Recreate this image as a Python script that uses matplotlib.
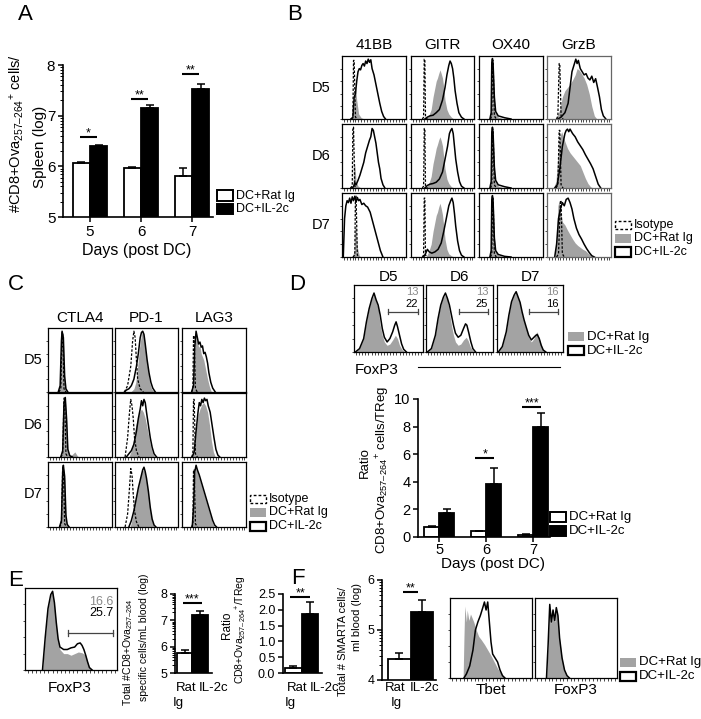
import numpy as np
import matplotlib
matplotlib.use("Agg")
import matplotlib.pyplot as plt
from matplotlib.patches import Rectangle
from matplotlib.lines import Line2D

plt.rcParams["font.family"] = ["Liberation Sans", "DejaVu Sans"]
plt.rcParams["mathtext.fontset"] = "custom"
plt.rcParams["mathtext.rm"] = "Liberation Sans"
plt.rcParams["mathtext.it"] = "Liberation Sans:italic"
plt.rcParams["mathtext.default"] = "regular"

GREY = "#a3a3a3"
W, H = 701, 719

# ---------------- bar chart data ----------------
days = np.array([5, 6, 7])
a_ratig = [6.07, 5.97, 5.81]
a_ratig_err = [0.02, 0.02, 0.15]
a_il2c = [6.40, 7.16, 7.52]
a_il2c_err = [0.02, 0.05, 0.10]
a_sig_y = [6.58, 7.33, 7.82]
a_sig = ["*", "**", "**"]

d_ratig = [0.75, 0.40, 0.18]
d_ratig_err = [0.07, 0.05, 0.04]
d_il2c = [1.75, 3.85, 8.0]
d_il2c_err = [0.28, 1.15, 0.95]
d_sig_day = [6, 7]
d_sig_y = [5.7, 9.4]
d_sig = ["*", "***"]

groups = ["Rat", "IL-2c"]
e_count = [5.75, 7.2]
e_count_err = [0.12, 0.15]
e_ratio = [0.17, 1.88]
e_ratio_err = [0.04, 0.38]
f_count = [4.42, 5.36]
f_count_err = [0.12, 0.24]

# gate percentages (D: Rat Ig / IL-2c per day, E: blood)
d_pct_rat = ["13", "13", "16"]
d_pct_il2 = ["22", "25", "16"]
e_pct = ["16.6", "25.7"]

# ---------------- histogram data: (x %, height %) ----------------
b_41bb_iso = [
    [(14, 0), (17, 3), (18, 93), (19, 93), (21, 3), (24, 0)],
    [(13, 0), (16, 3), (17, 95), (18, 95), (20, 3), (23, 0)],
    [(17, 0), (20, 3), (21, 95), (22, 95), (24, 3), (27, 0)],
]
b_41bb_rat = [
    [(15, 0), (18, 5), (19, 45), (21, 52), (23, 30), (26, 8), (30, 2), (35, 0)],
    [(14, 0), (17, 5), (18, 35), (20, 38), (22, 10), (25, 3), (30, 0)],
    [(16, 0), (19, 10), (20, 45), (22, 48), (24, 15), (27, 2), (30, 0)],
]
b_41bb_il2 = [
    [(14, 0), (17, 2), (19, 35), (21, 40), (23, 60), (25, 75), (27, 80), (29, 78), (31, 85),
     (33, 88), (35, 84), (37, 92), (39, 88), (41, 95), (43, 90), (45, 94), (47, 80), (50, 70),
     (53, 55), (56, 40), (59, 25), (62, 12), (65, 4), (68, 0)],
    [(15, 0), (18, 2), (20, 8), (22, 5), (25, 12), (28, 20), (31, 30), (34, 40), (37, 55),
     (40, 65), (43, 75), (45, 80), (47, 93), (49, 90), (51, 80), (53, 70), (55, 55), (57, 40),
     (59, 30), (61, 15), (64, 5), (67, 0)],
    [(2, 0), (4, 60), (6, 80), (8, 88), (10, 85), (12, 92), (14, 84), (16, 94), (18, 88),
     (20, 95), (22, 86), (24, 93), (26, 88), (28, 90), (31, 82), (34, 84), (37, 80), (40, 78),
     (44, 70), (48, 55), (52, 40), (56, 25), (60, 10), (64, 0)],
]
b_gitr_iso = [
    [(18, 0), (20, 3), (21, 95), (22, 95), (23, 3), (26, 0)],
    [(18, 0), (20, 3), (21, 93), (22, 93), (23, 3), (26, 0)],
    [(18, 0), (20, 3), (21, 92), (22, 92), (23, 3), (26, 0)],
]
b_gitr_rat = [
    [(24, 0), (28, 5), (32, 15), (35, 35), (38, 50), (40, 60), (42, 65), (44, 72), (46, 78),
     (48, 72), (50, 65), (52, 50), (54, 30), (57, 15), (60, 8), (64, 3), (68, 0)],
    [(24, 0), (28, 6), (32, 18), (35, 38), (38, 52), (40, 62), (42, 68), (44, 75), (46, 80),
     (48, 74), (50, 66), (52, 48), (54, 30), (57, 14), (60, 7), (64, 2), (68, 0)],
    [(24, 0), (28, 8), (32, 20), (35, 40), (38, 55), (40, 65), (42, 70), (44, 78), (46, 84),
     (48, 76), (50, 66), (52, 48), (54, 28), (57, 12), (60, 5), (64, 2), (68, 0)],
]
b_gitr_il2 = [
    [(22, 0), (26, 3), (30, 5), (35, 6), (40, 10), (45, 15), (50, 30), (54, 50), (57, 70),
     (60, 85), (62, 92), (64, 88), (66, 80), (68, 65), (70, 45), (73, 25), (76, 10), (80, 3),
     (84, 0)],
    [(22, 0), (26, 4), (30, 6), (35, 7), (40, 9), (45, 14), (50, 25), (54, 45), (58, 65),
     (61, 85), (63, 90), (65, 93), (67, 85), (69, 65), (71, 45), (74, 25), (77, 10), (80, 3),
     (84, 0)],
    [(20, 0), (23, 5), (26, 12), (29, 8), (33, 6), (38, 8), (43, 12), (48, 22), (52, 40),
     (56, 60), (60, 80), (63, 88), (65, 92), (67, 85), (69, 68), (71, 48), (74, 25), (77, 10),
     (80, 3), (84, 0)],
]
b_ox40_iso = [
    [(18, 0), (20, 5), (21, 93), (22, 93), (24, 5), (27, 0)],
    [(18, 0), (20, 5), (21, 92), (22, 92), (24, 5), (27, 0)],
    [(18, 0), (20, 5), (21, 94), (22, 94), (24, 5), (27, 0)],
]
b_ox40_rat = [
    [(17, 0), (19, 10), (20, 80), (22, 85), (24, 30), (26, 10), (30, 3), (40, 0)],
    [(17, 0), (19, 10), (20, 78), (22, 84), (24, 28), (26, 9), (30, 3), (40, 0)],
    [(17, 0), (19, 12), (20, 82), (22, 86), (24, 30), (26, 10), (30, 3), (40, 0)],
]
b_ox40_il2 = [
    [(17, 0), (19, 10), (20, 90), (21, 96), (22, 88), (24, 35), (26, 12), (30, 5), (40, 2), (50, 0)],
    [(17, 0), (19, 10), (20, 88), (21, 95), (22, 86), (24, 33), (26, 12), (30, 5), (40, 2), (50, 0)],
    [(17, 0), (19, 10), (20, 90), (21, 96), (22, 88), (24, 30), (26, 10), (30, 4), (40, 1), (50, 0)],
]
b_grzb_iso = [
    [(15, 0), (17, 5), (19, 88), (20, 88), (22, 5), (25, 0)],
    [(14, 0), (17, 5), (19, 90), (20, 90), (22, 5), (25, 0)],
    [(15, 0), (18, 5), (21, 88), (22, 88), (24, 5), (27, 0)],
]
b_grzb_rat = [
    [(12, 0), (16, 5), (20, 15), (24, 35), (28, 45), (32, 50), (36, 55), (40, 62), (44, 70),
     (47, 80), (50, 78), (54, 72), (58, 65), (62, 55), (66, 40), (70, 20), (74, 5), (78, 0)],
    [(10, 0), (14, 10), (17, 50), (20, 80), (23, 88), (26, 78), (29, 70), (32, 62), (36, 55),
     (40, 50), (44, 45), (48, 40), (52, 35), (56, 25), (60, 15), (64, 7), (68, 2), (72, 0)],
    [(12, 0), (15, 30), (17, 80), (19, 88), (21, 70), (24, 55), (28, 50), (32, 42), (36, 35),
     (40, 28), (44, 22), (48, 18), (52, 15), (56, 12), (60, 10), (64, 6), (68, 3), (72, 0)],
]
b_grzb_il2 = [
    [(17, 0), (22, 3), (28, 10), (33, 25), (36, 50), (39, 75), (42, 85), (45, 95), (47, 88),
     (49, 93), (52, 80), (55, 75), (58, 70), (61, 72), (64, 65), (67, 62), (70, 68), (73, 58),
     (76, 64), (79, 50), (82, 35), (85, 15), (88, 5), (92, 0)],
    [(12, 0), (16, 5), (20, 30), (24, 65), (28, 85), (30, 90), (32, 92), (34, 88), (36, 92),
     (40, 85), (44, 80), (48, 72), (52, 66), (56, 60), (60, 52), (64, 45), (68, 38), (72, 30),
     (76, 18), (80, 6), (84, 0)],
    [(12, 0), (15, 20), (18, 60), (21, 75), (24, 85), (27, 80), (30, 90), (33, 92), (36, 85),
     (39, 75), (42, 60), (46, 45), (50, 35), (54, 28), (58, 20), (62, 13), (66, 7), (70, 2),
     (74, 0)],
]

c_ctla4_iso = [
    [(17, 0), (20, 5), (22, 93), (23, 93), (25, 5), (28, 0)],
    [(20, 0), (23, 5), (25, 92), (26, 92), (28, 5), (31, 0)],
    [(18, 0), (21, 5), (23, 94), (24, 94), (26, 5), (29, 0)],
]
c_ctla4_rat = [
    [(16, 0), (19, 10), (21, 75), (22, 90), (24, 80), (26, 20), (28, 3), (31, 0)],
    [(20, 0), (23, 10), (25, 80), (27, 90), (29, 60), (31, 10), (34, 2), (38, 4), (42, 8),
     (45, 3), (48, 0)],
    [(18, 0), (21, 10), (23, 80), (24, 92), (26, 75), (28, 15), (30, 3), (33, 0)],
]
c_ctla4_il2 = [
    [(16, 0), (19, 10), (21, 80), (22, 95), (24, 85), (26, 25), (28, 5), (31, 0)],
    [(20, 0), (23, 10), (25, 85), (27, 93), (29, 60), (31, 12), (34, 2), (38, 0)],
    [(18, 0), (21, 10), (23, 85), (24, 95), (26, 78), (28, 18), (30, 4), (33, 0)],
]
c_pd1_iso = [
    [(15, 0), (20, 10), (25, 40), (28, 80), (30, 95), (32, 85), (34, 50), (36, 20), (40, 5), (45, 0)],
    [(16, 0), (20, 30), (23, 70), (25, 90), (27, 80), (29, 60), (31, 30), (34, 10), (38, 0)],
    [(16, 0), (20, 20), (23, 60), (25, 90), (27, 80), (29, 50), (31, 25), (34, 8), (38, 0)],
]
c_pd1_rat = [
    [(25, 0), (30, 5), (33, 15), (36, 40), (39, 70), (42, 90), (44, 95), (46, 85), (49, 60),
     (52, 35), (55, 15), (58, 5), (62, 0)],
    [(22, 0), (26, 10), (30, 30), (33, 50), (36, 60), (39, 70), (42, 75), (45, 70), (48, 60),
     (51, 45), (54, 30), (57, 15), (60, 5), (63, 0)],
    [(24, 0), (28, 15), (31, 35), (34, 50), (37, 60), (40, 75), (43, 85), (45, 88), (47, 85),
     (50, 70), (53, 50), (56, 25), (59, 8), (62, 0)],
]
c_pd1_il2 = [
    [(15, 0), (18, 3), (22, 5), (26, 10), (30, 20), (34, 40), (37, 60), (40, 85), (42, 93),
     (44, 95), (46, 90), (48, 75), (51, 50), (54, 30), (57, 15), (60, 6), (64, 0)],
    [(18, 0), (22, 5), (26, 10), (30, 20), (34, 40), (37, 60), (40, 75), (42, 88), (44, 80),
     (46, 90), (48, 85), (50, 70), (53, 50), (56, 30), (59, 15), (62, 5), (66, 0)],
    [(22, 0), (26, 10), (30, 25), (34, 45), (37, 60), (40, 72), (42, 80), (44, 88), (46, 92),
     (48, 85), (50, 75), (53, 55), (56, 30), (59, 12), (62, 3), (65, 0)],
]
c_lag3_iso = [
    [(15, 0), (17, 5), (18, 88), (19, 88), (21, 5), (24, 0)],
    [(15, 0), (17, 5), (18, 90), (19, 90), (21, 5), (24, 0)],
    [(15, 0), (17, 5), (18, 88), (19, 88), (21, 5), (24, 0)],
]
c_lag3_rat = [
    [(15, 0), (18, 10), (20, 60), (22, 90), (24, 80), (26, 70), (28, 72), (30, 60), (32, 55),
     (34, 50), (36, 40), (38, 30), (40, 20), (43, 8), (46, 0)],
    [(16, 0), (19, 10), (22, 40), (25, 65), (28, 75), (31, 82), (34, 85), (37, 80), (40, 70),
     (43, 50), (46, 25), (49, 8), (52, 0)],
    [(16, 0), (18, 30), (20, 80), (22, 92), (24, 85), (27, 75), (30, 65), (33, 55), (36, 45),
     (39, 35), (42, 25), (45, 15), (48, 5), (51, 0)],
]
c_lag3_il2 = [
    [(15, 0), (18, 10), (20, 70), (22, 95), (24, 85), (26, 75), (28, 78), (30, 70), (32, 72),
     (34, 60), (36, 62), (38, 55), (40, 45), (42, 30), (45, 15), (48, 6), (52, 0)],
    [(16, 0), (19, 8), (22, 40), (25, 70), (27, 85), (29, 80), (31, 90), (33, 85), (35, 92),
     (37, 88), (39, 90), (41, 80), (44, 70), (47, 50), (50, 30), (53, 12), (56, 3), (59, 0)],
    [(16, 0), (18, 30), (20, 85), (22, 95), (24, 88), (27, 80), (30, 70), (33, 60), (36, 50),
     (39, 40), (42, 30), (45, 20), (48, 10), (51, 3), (54, 0)],
]

d_foxp3_rat = [
    [(2, 0), (8, 5), (14, 20), (18, 45), (22, 65), (26, 80), (29, 85), (32, 75), (35, 65),
     (38, 40), (41, 25), (44, 15), (48, 10), (52, 12), (56, 18), (60, 25), (63, 20), (66, 10),
     (70, 3), (74, 0)],
    [(2, 0), (8, 5), (14, 25), (18, 50), (22, 70), (26, 82), (29, 85), (32, 78), (35, 60),
     (38, 40), (41, 25), (44, 15), (48, 10), (52, 12), (56, 18), (60, 22), (63, 17), (66, 8),
     (70, 2), (73, 0)],
    [(2, 0), (8, 8), (14, 30), (18, 55), (22, 75), (26, 85), (29, 88), (32, 80), (35, 72),
     (38, 55), (41, 45), (44, 35), (48, 22), (52, 15), (56, 20), (59, 28), (61, 30), (64, 20),
     (67, 10), (70, 3), (74, 0)],
]
d_foxp3_il2 = [
    [(2, 0), (8, 5), (14, 20), (18, 45), (22, 65), (26, 80), (29, 88), (32, 78), (35, 70),
     (38, 55), (41, 35), (44, 22), (48, 15), (52, 20), (56, 30), (59, 40), (61, 45), (63, 38),
     (66, 25), (69, 12), (72, 4), (76, 0)],
    [(2, 0), (8, 5), (14, 25), (18, 50), (22, 70), (26, 82), (29, 88), (32, 80), (35, 70),
     (38, 55), (41, 40), (44, 28), (48, 22), (52, 25), (56, 35), (59, 42), (61, 40), (64, 28),
     (67, 15), (70, 5), (74, 0)],
    [(2, 0), (8, 8), (14, 30), (18, 55), (22, 75), (26, 85), (29, 90), (32, 82), (35, 74),
     (38, 60), (41, 48), (44, 38), (48, 25), (52, 18), (56, 22), (59, 25), (61, 26), (64, 20),
     (67, 10), (70, 3), (74, 0)],
]

e_foxp3_rat = [(19, 0), (22, 40), (25, 75), (28, 92), (30, 95), (32, 80), (34, 55), (36, 35),
               (38, 25), (42, 20), (46, 20), (50, 18), (54, 20), (58, 22), (62, 21), (66, 18),
               (68, 10), (70, 3), (73, 0)]
e_foxp3_il2 = [(19, 0), (22, 40), (25, 75), (28, 92), (30, 96), (32, 82), (34, 58), (36, 38),
               (38, 28), (42, 25), (46, 25), (50, 27), (54, 28), (57, 32), (60, 33), (62, 30),
               (64, 25), (66, 18), (68, 10), (70, 3), (73, 0)]

f_tbet_rat = [(16, 0), (17, 50), (18, 90), (20, 70), (21, 85), (23, 72), (25, 80), (27, 75),
              (29, 70), (32, 60), (35, 52), (38, 48), (42, 42), (46, 35), (50, 28), (54, 20),
              (58, 12), (62, 6), (67, 0)]
f_tbet_il2 = [(17, 0), (20, 5), (24, 15), (28, 35), (31, 60), (34, 70), (37, 78), (40, 88),
              (42, 95), (44, 85), (46, 95), (48, 70), (50, 45), (52, 30), (55, 25), (58, 20),
              (61, 10), (64, 3), (67, 0)]
f_foxp3_rat = [(14, 0), (16, 40), (18, 90), (20, 68), (22, 83), (24, 70), (26, 86), (28, 75),
               (30, 48), (33, 24), (36, 9), (39, 3), (42, 0)]
f_foxp3_il2 = [(14, 0), (16, 42), (18, 92), (20, 70), (22, 85), (24, 72), (26, 88), (28, 78),
               (30, 50), (33, 25), (36, 10), (39, 3), (42, 0)]

OVA = r"Ova$_{\mathit{257–264}}$"

fig = plt.figure(figsize=(W / 100, H / 100), dpi=100)


def axes_px(x0, y0, x1, y1):
    return fig.add_axes([x0 / W, 1 - y1 / H, (x1 - x0) / W, (y1 - y0) / H])


def text_px(x, y, s, **kw):
    kw.setdefault("ha", "center")
    kw.setdefault("va", "center")
    fig.text(x / W, 1 - y / H, s, **kw)


def box_px(x0, y0, x1, y1, **kw):
    fig.add_artist(Rectangle((x0 / W, 1 - y1 / H), (x1 - x0) / W, (y1 - y0) / H,
                             transform=fig.transFigure, **kw))


def line_px(x0, x1, y, **kw):
    fig.add_artist(Line2D([x0 / W, x1 / W], [1 - y / H, 1 - y / H],
                          transform=fig.transFigure, **kw))


def draw_hist(ax, rat, il2, iso=None, edge="black"):
    if rat:
        xs, ys = zip(*rat)
        ax.fill_between(xs, ys, color=GREY, lw=0, zorder=1)
    if il2:
        xs, ys = zip(*il2)
        ax.plot(xs, ys, color="black", lw=1.1, zorder=2)
    if iso:
        xs, ys = zip(*iso)
        ax.plot(xs, ys, color="black", lw=0.9, ls=(0, (2, 1.3)), zorder=3)
    ax.set_xlim(0, 100)
    ax.set_ylim(0, 100)
    ax.set_xticks(np.arange(3, 100, 4.5))
    ax.set_yticks([0, 20, 40, 60, 80])
    ax.tick_params(length=1.8, width=0.5, labelbottom=False, labelleft=False)
    for s in ax.spines.values():
        s.set_linewidth(0.9)
        s.set_edgecolor(edge)


def prism(ax, labelsize=10.5):
    for s in ["top", "right"]:
        ax.spines[s].set_visible(False)
    for s in ["left", "bottom"]:
        ax.spines[s].set_linewidth(1.2)
    ax.tick_params(direction="out", length=3.5, width=1.1, labelsize=labelsize, pad=2)


def log_minor(ax, lo, hi):
    ax.set_yticks([n + np.log10(k) for n in range(lo, hi) for k in range(2, 10)], minor=True)
    ax.tick_params(axis="y", which="minor", length=2, width=0.7)


def bar_pair(ax, xw, xb, width, white, white_err, black, black_err):
    ax.bar(xw, white, width, color="white", edgecolor="black", lw=1.3, zorder=2)
    ax.bar(xb, black, width, color="black", edgecolor="black", lw=1.3, zorder=2)
    ax.errorbar(xw, white, yerr=[np.zeros(len(white)), white_err], fmt="none",
                ecolor="black", elinewidth=1.1, capsize=3, capthick=1.1, zorder=3)
    ax.errorbar(xb, black, yerr=[np.zeros(len(black)), black_err], fmt="none",
                ecolor="black", elinewidth=1.1, capsize=3, capthick=1.1, zorder=3)


def sig(ax, x, y, hw, stars, fs=9):
    ax.plot([x - hw, x + hw], [y, y], color="black", lw=1.5, solid_capstyle="butt",
            clip_on=False)
    ax.annotate(stars, (x, y), xytext=(0, -1.5), textcoords="offset points",
                ha="center", va="bottom", fontsize=fs, annotation_clip=False)


def group_labels(ax, rat_x, il2_x, ig_x, y=688, fs=9.5):
    # category names drawn by hand: "Rat" / "Ig" wrap under the white bar
    ax.set_xticks([])
    text_px(rat_x, y, groups[0], ha="left", fontsize=fs)
    text_px(il2_x, y, groups[1], ha="left", fontsize=fs)
    text_px(ig_x, y + 15, "Ig", ha="left", fontsize=fs)


def legend_px(x0, y, entries, fs=9):
    # entries: list of (style, label); style in iso / rat / il2 / white / black
    for k, (style, label) in enumerate(entries):
        yc = y + k * 13.5
        if style == "iso":
            box_px(x0, yc - 4, x0 + 16, yc + 4, fill=False, lw=1, ls=(0, (2, 1.5)),
                   edgecolor="black")
        elif style == "rat":
            box_px(x0, yc - 4.5, x0 + 16, yc + 4.5, facecolor=GREY, lw=0)
        elif style == "il2":
            box_px(x0, yc - 4.5, x0 + 16, yc + 4.5, facecolor="white", lw=1.6,
                   edgecolor="black")
        elif style == "white":
            box_px(x0, yc - 5, x0 + 16, yc + 5, facecolor="white", lw=1.4,
                   edgecolor="black")
        else:
            box_px(x0, yc - 5, x0 + 16, yc + 5, facecolor="black", lw=1.4,
                   edgecolor="black")
        text_px(x0 + 19, yc, label, ha="left", fontsize=fs)


# ---------------- panel letters ----------------
for letter, (lx, ly) in zip("ABCDEF", [(25, 15), (295, 15), (16, 285), (297, 285),
                                       (16, 580), (298, 578)]):
    text_px(lx, ly, letter, fontsize=16)

# ---------------- A ----------------
axA = axes_px(63, 65, 213, 217)
prism(axA, 11)
bar_pair(axA, days - 0.17, days + 0.17, 0.34, a_ratig, a_ratig_err, a_il2c, a_il2c_err)
axA.set_xlim(4.47, 7.41)
axA.set_ylim(5, 8)
axA.set_yticks([5, 6, 7, 8])
log_minor(axA, 5, 8)
axA.set_xticks(days)
for d, y, s in zip(days, a_sig_y, a_sig):
    sig(axA, d - 0.03, y, 0.17, s)
text_px(17, 134, "#CD8+" + OVA + r"$^{+}$ cells/", rotation=90, fontsize=10.5)
text_px(40, 147, "Spleen (log)", rotation=90, fontsize=11)
text_px(137, 250, "Days (post DC)", fontsize=11.5)
legend_px(217, 195.5, [("white", "DC+Rat Ig"), ("black", "DC+IL-2c")], fs=9)

# ---------------- B ----------------
b_cols = [(342, 406), (411, 474), (479, 543), (547, 611)]
b_rows = [(56, 119), (124, 188), (193, 257)]
b_markers = ["41BB", "GITR", "OX40", "GrzB"]
b_sets = [(b_41bb_iso, b_41bb_rat, b_41bb_il2), (b_gitr_iso, b_gitr_rat, b_gitr_il2),
          (b_ox40_iso, b_ox40_rat, b_ox40_il2), (b_grzb_iso, b_grzb_rat, b_grzb_il2)]
for j, (x0, x1) in enumerate(b_cols):
    text_px((x0 + x1) / 2, 45, b_markers[j], fontsize=11)
    iso, rat, il2 = b_sets[j]
    for i, (y0, y1) in enumerate(b_rows):
        ax = axes_px(x0, y0, x1, y1)
        draw_hist(ax, rat[i], il2[i], iso[i], edge="#666666" if j == 3 else "black")
for lab, (y0, y1) in zip(["D5", "D6", "D7"], b_rows):
    text_px(321, (y0 + y1) / 2, lab, fontsize=10.5)
legend_px(615, 225, [("iso", "Isotype"), ("rat", "DC+Rat Ig"), ("il2", "DC+IL-2c")], fs=9)

# ---------------- C ----------------
c_cols = [(48, 112), (115, 178), (182, 246)]
c_rows = [(328, 392), (393, 457), (462, 527)]
c_markers = ["CTLA4", "PD-1", "LAG3"]
c_sets = [(c_ctla4_iso, c_ctla4_rat, c_ctla4_il2), (c_pd1_iso, c_pd1_rat, c_pd1_il2),
          (c_lag3_iso, c_lag3_rat, c_lag3_il2)]
for j, (x0, x1) in enumerate(c_cols):
    text_px((x0 + x1) / 2, 318, c_markers[j], fontsize=11)
    iso, rat, il2 = c_sets[j]
    for i, (y0, y1) in enumerate(c_rows):
        ax = axes_px(x0, y0, x1, y1)
        draw_hist(ax, rat[i], il2[i], iso[i])
for lab, (y0, y1) in zip(["D5", "D6", "D7"], c_rows):
    text_px(33, (y0 + y1) / 2, lab, fontsize=10.5)
legend_px(250, 499, [("iso", "Isotype"), ("rat", "DC+Rat Ig"), ("il2", "DC+IL-2c")], fs=9)

# ---------------- D histograms ----------------
d_cols = [(354, 423), (426, 493), (497, 563)]
for k, (x0, x1) in enumerate(d_cols):
    text_px((x0 + x1) / 2, 277, "D%d" % days[k], fontsize=11)
    ax = axes_px(x0, 285, x1, 352)
    draw_hist(ax, d_foxp3_rat[k], d_foxp3_il2[k])
    ax.plot([49, 93], [60, 60], color="#444444", lw=0.9)
    ax.plot([49, 49], [56, 64], color="#444444", lw=0.9)
    ax.plot([93, 93], [56, 64], color="#444444", lw=0.9)
    ax.text(93, 90, d_pct_rat[k], ha="right", va="center", fontsize=8, color="#8a8a8a")
    ax.text(93, 72, d_pct_il2[k], ha="right", va="center", fontsize=8)
legend_px(568, 337, [("rat", "DC+Rat Ig"), ("il2", "DC+IL-2c")], fs=9.5)
text_px(355, 370, "FoxP3", ha="left", fontsize=11)
line_px(418, 560, 367, color="black", lw=0.8)

# ---------------- D bars ----------------
axD = axes_px(418, 399, 550, 537)
prism(axD, 10.5)
bar_pair(axD, days - 0.16, days + 0.16, 0.32, d_ratig, d_ratig_err, d_il2c, d_il2c_err)
axD.set_xlim(4.55, 7.36)
axD.set_ylim(0, 10)
axD.set_yticks(np.arange(0, 11, 2))
axD.set_xticks(days)
axD.tick_params(axis="x", pad=1)
for d, y, s in zip(d_sig_day, d_sig_y, d_sig):
    sig(axD, d - 0.03, y, 0.2, s)
text_px(365, 463, "Ratio", rotation=90, fontsize=9.5)
text_px(383, 470, "CD8+" + OVA + r"$^{+}$ cells/TReg", rotation=90, fontsize=9.5)
text_px(493, 564, "Days (post DC)", fontsize=11)
legend_px(550, 517, [("white", "DC+Rat Ig"), ("black", "DC+IL-2c")], fs=9.5)

# ---------------- E ----------------
axE0 = axes_px(25, 588, 117, 670)
draw_hist(axE0, e_foxp3_rat, e_foxp3_il2)
axE0.plot([47, 96], [45, 45], color="#444444", lw=0.9)
axE0.plot([47, 47], [41, 49], color="#444444", lw=0.9)
axE0.plot([96, 96], [41, 49], color="#444444", lw=0.9)
axE0.text(96, 83, e_pct[0], ha="right", va="center", fontsize=9, color="#8a8a8a")
axE0.text(96, 70, e_pct[1], ha="right", va="center", fontsize=9)
text_px(70, 688, "FoxP3", fontsize=11)

cats = np.arange(2)
axE1 = axes_px(175, 594, 212, 673)
prism(axE1, 9)
bar_pair(axE1, cats[:1], cats[1:], 1.0, e_count[:1], e_count_err[:1], e_count[1:], e_count_err[1:])
axE1.set_xlim(-0.63, 1.76)
axE1.set_ylim(5, 8)
axE1.set_yticks([5, 6, 7, 8])
log_minor(axE1, 5, 8)
group_labels(axE1, 176, 199, 173)
sig(axE1, 0.5, 7.66, 0.6, "***")
text_px(128, 652, "Total #CD8+" + OVA, rotation=90, fontsize=7.5)
text_px(144, 637, "specific cells/mL blood (log)", rotation=90, fontsize=7.5)

axE2 = axes_px(283, 594, 322, 673)
prism(axE2, 9)
bar_pair(axE2, cats[:1], cats[1:], 1.0, e_ratio[:1], e_ratio_err[:1], e_ratio[1:], e_ratio_err[1:])
axE2.set_xlim(-0.62, 1.74)
axE2.set_ylim(0, 2.5)
axE2.set_yticks(np.arange(0, 2.6, 0.5))
axE2.set_yticklabels(["0.0", "0.5", "1.0", "1.5", "2.0", "2.5"])
group_labels(axE2, 287, 310, 285)
sig(axE2, 0.42, 2.4, 0.6, "**")
text_px(227, 625, "Ratio", rotation=90, fontsize=8.5)
text_px(241, 630, "CD8+" + OVA + r"$^{+}$/TReg", rotation=90, fontsize=7.5)

# ---------------- F ----------------
axF = axes_px(382, 580, 436, 680)
prism(axF, 9)
bar_pair(axF, cats[:1], cats[1:], 1.0, f_count[:1], f_count_err[:1], f_count[1:], f_count_err[1:])
axF.set_xlim(-0.77, 1.63)
axF.set_ylim(4, 6)
axF.set_yticks([4, 5, 6])
log_minor(axF, 4, 6)
group_labels(axF, 385, 410, 391)
sig(axF, 0.5, 5.76, 0.35, "**")
text_px(343, 641, "Total # SMARTA cells/", rotation=90, fontsize=8)
text_px(357, 617, "ml blood (log)", rotation=90, fontsize=8)

axF1 = axes_px(450, 598, 532, 678)
draw_hist(axF1, f_tbet_rat, f_tbet_il2)
text_px(491, 690, "Tbet", fontsize=11)
axF2 = axes_px(535, 598, 617, 678)
draw_hist(axF2, f_foxp3_rat, f_foxp3_il2)
text_px(576, 690, "FoxP3", fontsize=11)
legend_px(620, 662.5, [("rat", "DC+Rat Ig"), ("il2", "DC+IL-2c")], fs=9.5)

fig.savefig("out.png", dpi=100)
